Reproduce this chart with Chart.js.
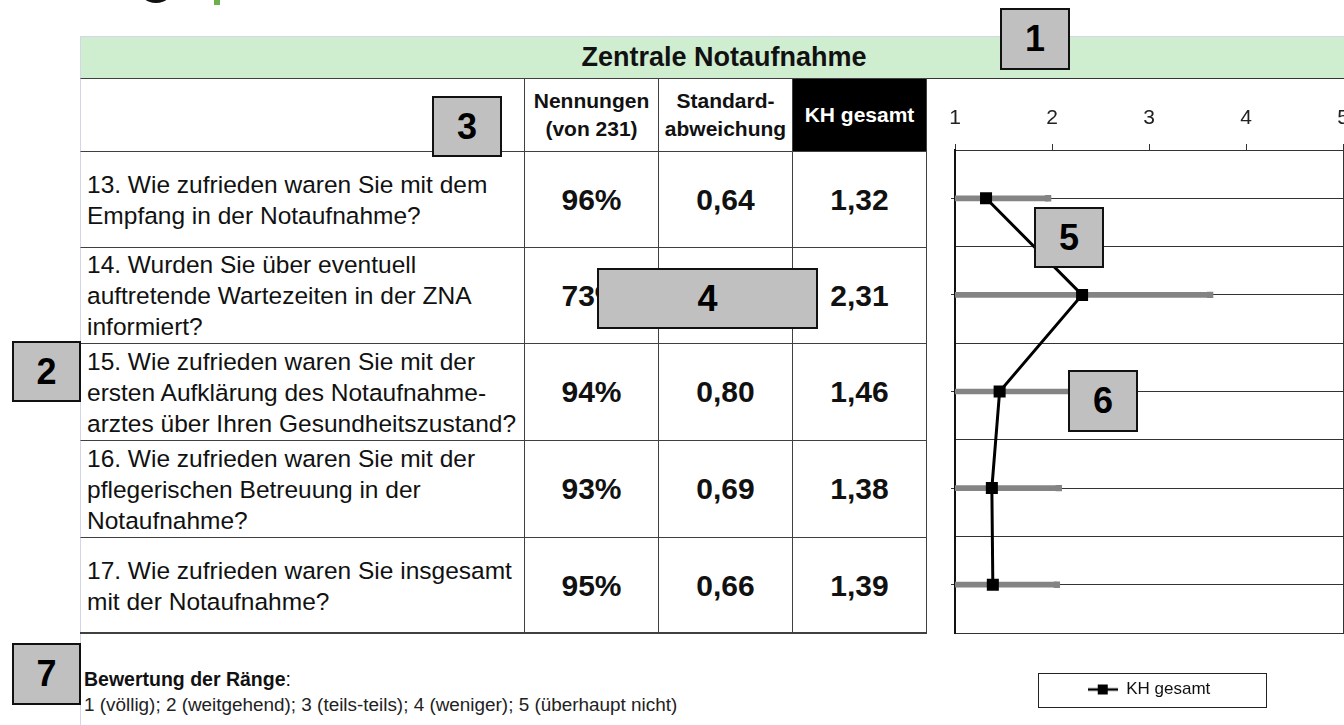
<!DOCTYPE html>
<html lang="de">
<head>
<meta charset="utf-8">
<title>Zentrale Notaufnahme</title>
<script src="https://cdn.jsdelivr.net/npm/chart.js@4.4.1/dist/chart.umd.min.js"></script>
<style>
  html, body { margin: 0; padding: 0; background: #fff; }
  body { width: 1344px; height: 725px; overflow: hidden; position: relative;
         font-family: "Liberation Sans", Arial, sans-serif; color: #111; }
  .abs { position: absolute; box-sizing: border-box; }
  .cell { position: absolute; box-sizing: border-box; display: flex; align-items: center;
          justify-content: center; text-align: center; border-left: 1px solid #404040;
          border-top: 1px solid #404040; }
  .q { justify-content: flex-start; text-align: left; padding-left: 6px; font-size: 24.5px;
       line-height: 31px; white-space: nowrap; }
  .val { font-weight: bold; font-size: 30px; }
  .head { font-weight: bold; font-size: 21px; line-height: 28px; }
  .mark { position: absolute; box-sizing: border-box; background: #c0c0c0; border: 2px solid #111;
          display: flex; align-items: center; justify-content: center; font-weight: bold;
          font-size: 36px; color: #000; }
</style>
</head>
<body>

<!-- bits of the logo cut off at the top -->
<div class="abs" style="left:138px; top:-30px; width:36px; height:33px; border-radius:50%; border-bottom:3px solid #111;"></div>
<div class="abs" style="left:214px; top:0; width:6px; height:5px; background:#6ab04c;"></div>

<!-- green title bar -->
<div class="abs" style="left:80px; top:36px; width:1264px; height:43px; background:#cfedcf;
     border-top:1px solid #d4d4ea; border-bottom:1px solid #333;"></div>
<div class="abs" style="left:80px; top:37px; width:1288px; height:41px; display:flex; align-items:center;
     justify-content:center; font-weight:bold; font-size:27px;">Zentrale Notaufnahme</div>
<div class="abs" style="left:80px; top:36px; width:1px; height:689px; background:#d4d4ea;"></div>

<div id="table"></div>

<div class="abs" style="left:84px; top:668px; font-size:19.5px; white-space:nowrap;"><b>Bewertung der Ränge</b>:</div>
<div class="abs" style="left:84px; top:694px; font-size:18.9px; white-space:nowrap; color:#222;">1 (völlig); 2 (weitgehend); 3 (teils-teils); 4 (weniger); 5 (überhaupt nicht)</div>

<div class="abs" style="left:930px; top:80px; width:440px; height:645px;">
  <canvas id="myChart"></canvas>
</div>

<div id="marks"></div>

<script>
// table / chart data
const questions = [
  "13. Wie zufrieden waren Sie mit dem\nEmpfang in der Notaufnahme?",
  "14. Wurden Sie über eventuell\nauftretende Wartezeiten in der ZNA\ninformiert?",
  "15. Wie zufrieden waren Sie mit der\nersten Aufklärung des Notaufnahme-\narztes über Ihren Gesundheitszustand?",
  "16. Wie zufrieden waren Sie mit der\npflegerischen Betreuung in der\nNotaufnahme?",
  "17. Wie zufrieden waren Sie insgesamt\nmit der Notaufnahme?"
];
const questionNr = ["13", "14", "15", "16", "17"];
const nennungen = [96, 73, 94, 93, 95];
const stdAbw = [0.64, 1.32, 0.80, 0.69, 0.66];
const khGesamt = [1.32, 2.31, 1.46, 1.38, 1.39];
const xTicks = [1, 2, 3, 4, 5];
const headers = ["", "Nennungen<br>(von 231)", "Standard-<br>abweichung", "KH gesamt"];

// layout of the table
const colX = [80, 524, 658, 792, 926];
const rowY = [78, 151, 247, 343, 440, 537, 633];

function de(n) {
  return n.toFixed(2).replace(".", ",");
}

// build the table
const table = document.getElementById("table");
let html = "";
for (let r = 0; r < rowY.length - 1; r++) {
  for (let c = 0; c < colX.length - 1; c++) {
    let style = "left:" + colX[c] + "px;top:" + rowY[r] + "px;width:" + (colX[c + 1] - colX[c] + (c === 3 ? 1 : 0)) +
      "px;height:" + (rowY[r + 1] - rowY[r]) + "px;";
    if (c === 3) style += "border-right:1px solid #404040;";
    if (c === 0) style += "border-left:1px solid #d4d4ea;";
    let cls = "cell";
    let text = "";
    if (r === 0) {
      cls += " head";
      text = headers[c];
      if (c === 3) style += "background:#000;color:#fff;";
    } else {
      const i = r - 1;
      if (c === 0) { cls += " q"; text = questions[i].split("\n").join("<br>"); }
      if (c === 1) { cls += " val"; text = nennungen[i] + "%"; }
      if (c === 2) { cls += " val"; text = de(stdAbw[i]); }
      if (c === 3) { cls += " val"; text = de(khGesamt[i]); }
    }
    html += '<div class="' + cls + '" style="' + style + '"><div>' + text + "</div></div>";
  }
}
html += '<div class="abs" style="left:80px;top:632px;width:847px;height:2px;background:#404040;"></div>';
table.innerHTML = html;

// grey numbered boxes
const marks = [
  ["1", 1000, 8, 70, 62], ["2", 12, 341, 69, 61], ["3", 432, 96, 70, 61], ["4", 597, 268, 221, 61],
  ["5", 1034, 207, 70, 61], ["6", 1068, 370, 70, 62], ["7", 12, 643, 69, 62]
];
let mh = "";
marks.forEach((m) => {
  mh += '<div class="mark" style="left:' + m[1] + "px;top:" + m[2] + "px;width:" + m[3] + "px;height:" + m[4] + 'px;">' + m[0] + "</div>";
});
document.getElementById("marks").innerHTML = mh;

// legend icon: line with square
const legendIcon = document.createElement("canvas");
legendIcon.width = 30;
legendIcon.height = 12;
const ic = legendIcon.getContext("2d");
ic.strokeStyle = "#000";
ic.lineWidth = 2.5;
ic.beginPath();
ic.moveTo(0, 6);
ic.lineTo(30, 6);
ic.stroke();
ic.fillStyle = "#000";
ic.fillRect(10, 1, 10, 10);

// frame around the legend
const legendFrame = {
  id: "legendFrame",
  afterDraw(chart) {
    const lg = chart.legend;
    const ca = chart.chartArea;
    const cx = (ca.left + ca.right) / 2 + 3;
    const c = chart.ctx;
    c.save();
    c.strokeStyle = "#222";
    c.lineWidth = 1;
    c.strokeRect(Math.round(cx - 114) + 0.5, Math.round(lg.top + 2) + 0.5, 228, Math.round(lg.height - 3));
    c.restore();
  },
};

const errLow = khGesamt.map((m, i) => Math.max(xTicks[0], m - stdAbw[i]));
const errHigh = khGesamt.map((m, i) => m + stdAbw[i]);

Chart.defaults.font.family = '"Liberation Sans", Arial, sans-serif';

const ctx = document.getElementById("myChart");
const myChart = new Chart(ctx, {
  type: "bar",
  data: {
    labels: questionNr,
    datasets: [
      {
        type: "line",
        label: "KH gesamt",
        data: khGesamt,
        borderColor: "#000",
        backgroundColor: "#000",
        borderWidth: 3,
        pointStyle: "rect",
        pointRadius: 8.5,
        pointBackgroundColor: "#000",
        pointBorderWidth: 0,
        tension: 0,
        order: 0,
      },
      {
        type: "line",
        label: "cap",
        data: errHigh,
        showLine: false,
        pointStyle: "rect",
        pointRadius: 4.5,
        pointBackgroundColor: "#848484",
        pointBorderWidth: 0,
        order: 1,
      },
      {
        type: "bar",
        label: "Standardabweichung",
        data: errLow.map((l, i) => [l, errHigh[i]]),
        backgroundColor: "#848484",
        borderWidth: 0,
        barThickness: 5,
        order: 2,
      },
    ],
  },
  options: {
    indexAxis: "y",
    responsive: true,
    maintainAspectRatio: false,
    animation: false,
    layout: { padding: { top: 0, bottom: 17, left: 0, right: 0 } },
    scales: {
      x: {
        type: "linear",
        position: "top",
        min: xTicks[0],
        max: xTicks[xTicks.length - 1],
        ticks: { stepSize: 1, padding: 13, color: "#222", font: { size: 21 } },
        grid: { drawOnChartArea: false, tickLength: 6, color: "#333" },
        border: { color: "#333", width: 1 },
        afterFit: (s) => { s.height = 70; },
      },
      x2: {
        type: "linear",
        position: "bottom",
        display: true,
        ticks: { display: false },
        grid: { display: false },
        border: { display: false },
        afterFit: (s) => { s.height = 38; },
      },
      y: {
        type: "category",
        offset: true,
        ticks: { display: false },
        grid: { offset: false, color: "#333", tickLength: 4 },
        border: { color: "#111", width: 2 },
        afterFit: (s) => { s.width = 25; },
      },
      y2: {
        type: "category",
        position: "right",
        offset: true,
        ticks: { display: false },
        grid: { offset: true, color: "#333", drawTicks: false },
        border: { color: "#333", width: 1 },
        afterFit: (s) => { s.width = 27; },
      },
    },
    plugins: {
      tooltip: { enabled: false },
      legend: {
        position: "bottom",
        fullSize: false,
        labels: {
          usePointStyle: true,
          pointStyleWidth: 30,
          padding: 10,
          color: "#111",
          font: { size: 17 },
          generateLabels: () => [
            { text: "KH gesamt", pointStyle: legendIcon, fillStyle: "#000", strokeStyle: "#000",
              lineWidth: 0, hidden: false, datasetIndex: 0, fontColor: "#111" },
          ],
        },
      },
    },
  },
  plugins: [legendFrame],
});
</script>
</body>
</html>
